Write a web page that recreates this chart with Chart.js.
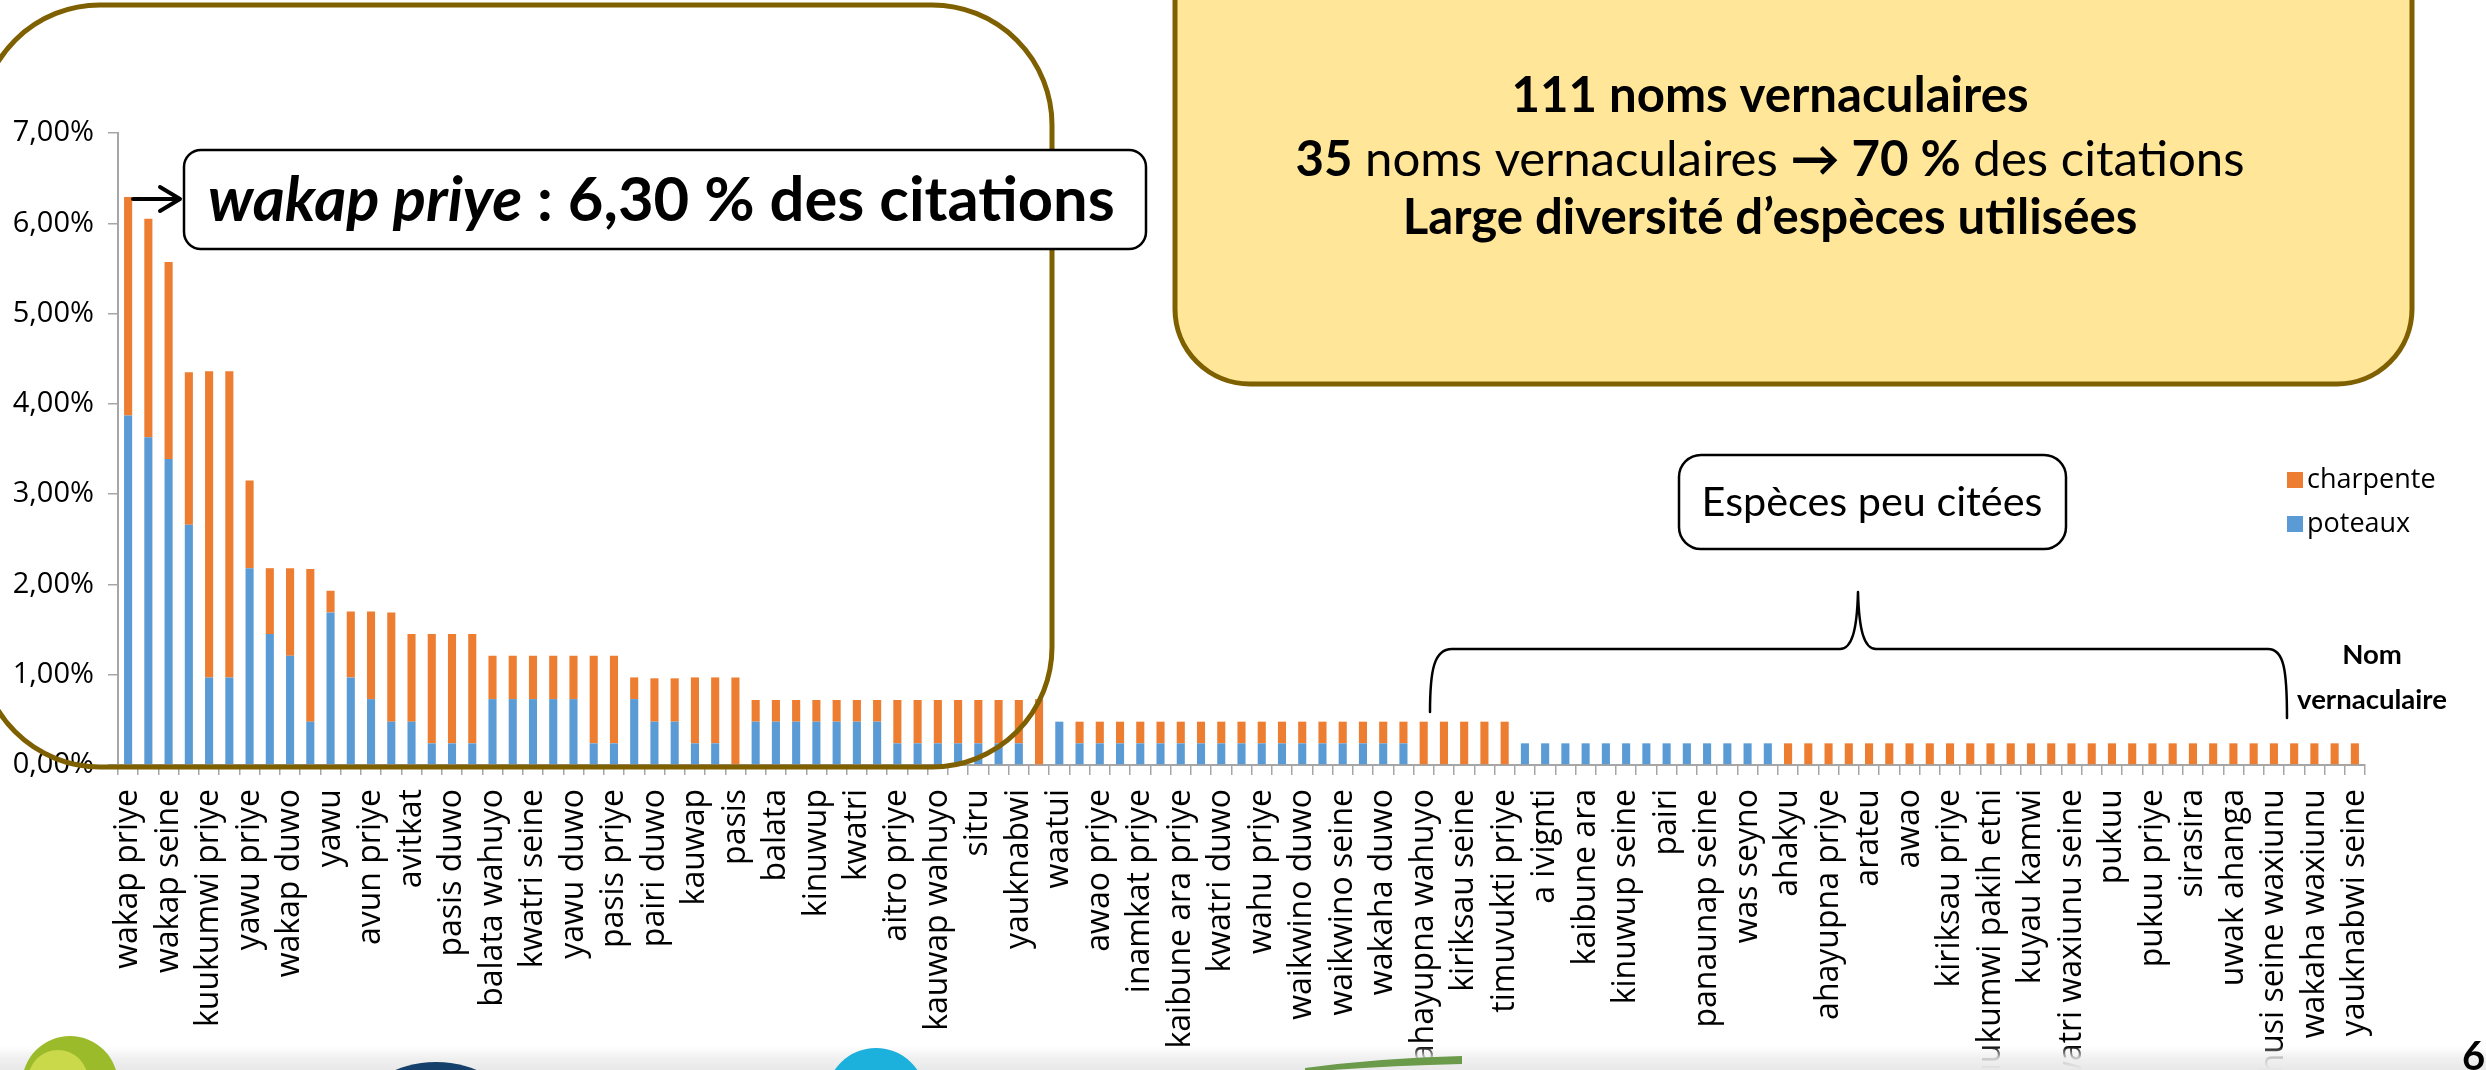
<!DOCTYPE html>
<html lang="fr">
<head>
<meta charset="utf-8">
<title>Noms vernaculaires cités</title>
<script src="https://cdn.jsdelivr.net/npm/chart.js@4.4.1/dist/chart.umd.min.js"></script>
<style>
  html, body { margin: 0; padding: 0; background: #fff; overflow: hidden; }
  #myChart { display: block; }
</style>
</head>
<body>
<canvas id="myChart" width="2486" height="1070"></canvas>
<script>
const ctx = document.getElementById('myChart');

// names shown on the axis (one every two bars)
const nomsAffiches = [
  'wakap priye', 'wakap seine', 'kuukumwi priye', 'yawu priye', 'wakap duwo',
  'yawu', 'avun priye', 'avitkat', 'pasis duwo', 'balata wahuyo',
  'kwatri seine', 'yawu duwo', 'pasis priye', 'pairi duwo', 'kauwap',
  'pasis', 'balata', 'kinuwup', 'kwatri', 'aitro priye',
  'kauwap wahuyo', 'sitru', 'yauknabwi', 'waatui', 'awao priye',
  'inamkat priye', 'kaibune ara priye', 'kwatri duwo', 'wahu priye', 'waikwino duwo',
  'waikwino seine', 'wakaha duwo', 'ahayupna wahuyo', 'kiriksau seine', 'timuvukti priye',
  'a ivignti', 'kaibune ara', 'kinuwup seine', 'pairi', 'panaunap seine',
  'was seyno', 'ahakyu', 'ahayupna priye', 'arateu', 'awao',
  'kiriksau priye', 'kuukumwi pakih etni', 'kuyau kamwi', 'kwatri waxiunu seine', 'pukuu',
  'pukuu priye', 'sirasira', 'uwak ahanga', 'wahusi seine waxiunu', 'wakaha waxiunu',
  'yauknabwi seine'
];

// % des citations, poteaux (blue, bottom)
const poteaux = [
  3.87, 3.63, 3.39, 2.66, 0.97, 0.97, 2.18, 1.45, 1.21, 0.48,
  1.69, 0.97, 0.73, 0.48, 0.48, 0.24, 0.24, 0.24, 0.73, 0.73,
  0.73, 0.73, 0.73, 0.24, 0.24, 0.73, 0.48, 0.48, 0.24, 0.24,
  0, 0.48, 0.48, 0.48, 0.48, 0.48, 0.48, 0.48, 0.24, 0.24,
  0.24, 0.24, 0.24, 0.24, 0.24, 0, 0.48, 0.24, 0.24, 0.24,
  0.24, 0.24, 0.24, 0.24, 0.24, 0.24, 0.24, 0.24, 0.24, 0.24,
  0.24, 0.24, 0.24, 0.24, 0, 0, 0, 0, 0, 0.24,
  0.24, 0.24, 0.24, 0.24, 0.24, 0.24, 0.24, 0.24, 0.24, 0.24,
  0.24, 0.24, 0, 0, 0, 0, 0, 0, 0, 0,
  0, 0, 0, 0, 0, 0, 0, 0, 0, 0,
  0, 0, 0, 0, 0, 0, 0, 0, 0, 0,
  0
];

// % des citations, charpente (orange, top)
const charpente = [
  2.42, 2.42, 2.18, 1.69, 3.39, 3.39, 0.97, 0.73, 0.97, 1.69,
  0.24, 0.73, 0.97, 1.21, 0.97, 1.21, 1.21, 1.21, 0.48, 0.48,
  0.48, 0.48, 0.48, 0.97, 0.97, 0.24, 0.48, 0.48, 0.73, 0.73,
  0.97, 0.24, 0.24, 0.24, 0.24, 0.24, 0.24, 0.24, 0.48, 0.48,
  0.48, 0.48, 0.48, 0.48, 0.48, 0.73, 0, 0.24, 0.24, 0.24,
  0.24, 0.24, 0.24, 0.24, 0.24, 0.24, 0.24, 0.24, 0.24, 0.24,
  0.24, 0.24, 0.24, 0.24, 0.48, 0.48, 0.48, 0.48, 0.48, 0,
  0, 0, 0, 0, 0, 0, 0, 0, 0, 0,
  0, 0, 0.24, 0.24, 0.24, 0.24, 0.24, 0.24, 0.24, 0.24,
  0.24, 0.24, 0.24, 0.24, 0.24, 0.24, 0.24, 0.24, 0.24, 0.24,
  0.24, 0.24, 0.24, 0.24, 0.24, 0.24, 0.24, 0.24, 0.24, 0.24,
  0.24
];

// 111 categories: the unlabelled ones stay blank
const categories = [];
nomsAffiches.forEach((nom, i) => {
  categories.push(nom);
  if (i < nomsAffiches.length - 1) categories.push('');
});

const BLUE = '#5b9bd5';
const ORANGE = '#ed7d31';
const BROWN = '#7f6000';
const TITLE_FONT = 'Lato, "Open Sans", sans-serif';

// size a line of text (made of runs) so it takes a given width
function fitSize(c, runs, target) {
  let w = 0;
  runs.forEach((r) => {
    c.font = `${r.f} 100px ${TITLE_FONT}`;
    w += c.measureText(r.t).width;
  });
  return (100 * target) / w;
}

function drawRuns(c, runs, size, x, y, align) {
  let w = 0;
  runs.forEach((r) => {
    c.font = `${r.f} ${size}px ${TITLE_FONT}`;
    w += c.measureText(r.t).width;
  });
  let cx = align == 'center' ? x - w / 2 : x;
  c.textAlign = 'left';
  c.textBaseline = 'middle';
  runs.forEach((r) => {
    c.font = `${r.f} ${size}px ${TITLE_FONT}`;
    c.fillText(r.t, cx, y);
    cx += c.measureText(r.t).width;
  });
}

// frames, callouts, brace, legend and footer
const decor = {
  id: 'decor',
  afterDraw(chart) {
    const c = chart.ctx;
    c.save();
    c.fillStyle = '#000';

    // brown frame round the first species
    c.lineWidth = 5;
    c.strokeStyle = BROWN;
    c.beginPath();
    c.roundRect(-20, 5, 1072, 762, 120);
    c.stroke();

    // wakap priye callout
    c.fillStyle = '#fff';
    c.strokeStyle = '#000';
    c.lineWidth = 2.5;
    c.beginPath();
    c.roundRect(184, 150, 962, 99, 17);
    c.fill();
    c.stroke();
    c.fillStyle = '#000';
    const wakap = [
      { t: 'wakap priye', f: 'italic 700' },
      { t: ' : 6,30 % des citations', f: '700' },
    ];
    drawRuns(c, wakap, fitSize(c, wakap, 907), 208, 201, 'left');

    // arrow from the first bar to the callout
    c.lineWidth = 4;
    c.lineCap = 'round';
    c.lineJoin = 'round';
    c.beginPath();
    c.moveTo(133, 199);
    c.lineTo(179, 199);
    c.moveTo(160, 187);
    c.lineTo(180, 199);
    c.lineTo(160, 211);
    c.stroke();

    // yellow summary box
    c.fillStyle = '#ffe699';
    c.strokeStyle = BROWN;
    c.lineWidth = 5;
    c.beginPath();
    c.roundRect(1175, -80, 1237, 464, 75);
    c.fill();
    c.stroke();
    c.fillStyle = '#000';
    const l1 = [{ t: '111 noms vernaculaires', f: '700' }];
    const l2 = [
      { t: '35', f: '700' },
      { t: ' noms vernaculaires ', f: '400' },
      { t: '→', f: '700' },
      { t: ' 70 %', f: '700' },
      { t: ' des citations', f: '400' },
    ];
    const l3 = [{ t: 'Large diversité d’espèces utilisées', f: '700' }];
    const s = (fitSize(c, l1, 517) + fitSize(c, l2, 946) + fitSize(c, l3, 738)) / 3;
    drawRuns(c, l1, s, 1770, 96, 'center');
    drawRuns(c, l2, s, 1770, 160, 'center');
    drawRuns(c, l3, s, 1770, 218, 'center');

    // "Espèces peu citées" box
    c.fillStyle = '#fff';
    c.strokeStyle = '#000';
    c.lineWidth = 2.5;
    c.beginPath();
    c.roundRect(1679, 455, 387, 94, 22);
    c.fill();
    c.stroke();
    c.fillStyle = '#000';
    const peu = [{ t: 'Espèces peu citées', f: '400' }];
    drawRuns(c, peu, fitSize(c, peu, 341), 1872, 503, 'center');

    // curly brace over the rare species
    c.lineWidth = 2.5;
    c.beginPath();
    c.moveTo(1430, 712);
    c.bezierCurveTo(1430, 670, 1434, 649, 1452, 649);
    c.lineTo(1840, 649);
    c.bezierCurveTo(1852, 649, 1857, 630, 1858, 592);
    c.bezierCurveTo(1859, 630, 1864, 649, 1876, 649);
    c.lineTo(2268, 649);
    c.bezierCurveTo(2284, 649, 2287, 670, 2287, 718);
    c.stroke();

    // legend (charpente listed first)
    const items = [
      { label: chart.data.datasets[1].label, color: chart.data.datasets[1].backgroundColor, y: 480 },
      { label: chart.data.datasets[0].label, color: chart.data.datasets[0].backgroundColor, y: 524 },
    ];
    items.forEach((it) => {
      c.fillStyle = it.color;
      c.fillRect(2287, it.y - 8, 16, 16);
      c.fillStyle = '#000';
      c.font = '27px "Open Sans"';
      c.textAlign = 'left';
      c.textBaseline = 'middle';
      c.fillText(it.label, 2307, it.y);
    });

    // axis title
    const nomRun = [{ t: 'vernaculaire', f: '700' }];
    const ns = fitSize(c, nomRun, 150);
    drawRuns(c, [{ t: 'Nom', f: '700' }], ns, 2372, 655, 'center');
    drawRuns(c, nomRun, ns, 2372, 700, 'center');

    // footer band with partial logos
    const g = c.createLinearGradient(0, 1046, 0, 1070);
    g.addColorStop(0, 'rgba(238,238,238,0)');
    g.addColorStop(0.5, 'rgba(238,238,238,0.85)');
    g.addColorStop(1, '#e8e8e8');
    c.fillStyle = g;
    c.fillRect(0, 1046, 2486, 24);

    c.fillStyle = '#9bbb2a';
    c.beginPath();
    c.arc(70, 1084, 48, 0, Math.PI * 2);
    c.fill();
    c.fillStyle = '#c9d94a';
    c.beginPath();
    c.arc(58, 1080, 30, 0, Math.PI * 2);
    c.fill();
    c.fillStyle = '#14406b';
    c.beginPath();
    c.ellipse(436, 1114, 76, 52, 0, 0, Math.PI * 2);
    c.fill();
    c.fillStyle = '#1cb0dc';
    c.beginPath();
    c.arc(876, 1098, 50, 0, Math.PI * 2);
    c.fill();
    c.fillStyle = '#6a9a4a';
    c.beginPath();
    c.moveTo(1305, 1068);
    c.quadraticCurveTo(1380, 1058, 1462, 1056);
    c.lineTo(1462, 1064);
    c.quadraticCurveTo(1380, 1066, 1305, 1072);
    c.closePath();
    c.fill();

    c.fillStyle = '#000';
    c.font = `700 40px ${TITLE_FONT}`;
    c.textAlign = 'left';
    c.textBaseline = 'alphabetic';
    c.fillText('6', 2462, 1070);

    c.restore();
  },
};

let myChart = new Chart(ctx, {
  type: 'bar',
  data: {
    labels: categories,
    datasets: [
      {
        label: 'poteaux',
        data: poteaux,
        backgroundColor: BLUE,
        barPercentage: 0.4,
        categoryPercentage: 1,
      },
      {
        label: 'charpente',
        data: charpente,
        backgroundColor: ORANGE,
        barPercentage: 0.4,
        categoryPercentage: 1,
      },
    ],
  },
  options: {
    responsive: false,
    animation: false,
    layout: {
      padding: { top: 133, right: 121, left: 0, bottom: 0 },
    },
    scales: {
      x: {
        stacked: true,
        afterFit: (scale) => {
          scale.height = 305;
        },
        grid: {
          offset: true,
          drawOnChartArea: false,
          tickLength: 10,
          color: '#a6a6a6',
          lineWidth: 1.5,
        },
        border: { color: '#a6a6a6', width: 2 },
        ticks: {
          autoSkip: false,
          maxRotation: 90,
          minRotation: 90,
          padding: 14,
          color: '#000',
          font: { family: 'Open Sans', size: 32 },
        },
      },
      y: {
        stacked: true,
        min: 0,
        max: 7,
        afterFit: (scale) => {
          scale.width = 118;
        },
        grid: {
          drawOnChartArea: false,
          tickLength: 10,
          color: '#a6a6a6',
          lineWidth: 1.5,
        },
        border: { color: '#a6a6a6', width: 2 },
        ticks: {
          stepSize: 1,
          padding: 14,
          color: '#000',
          font: { family: 'Open Sans', size: 29 },
          callback: (v) => v.toFixed(2).replace('.', ',') + '%',
        },
      },
    },
    plugins: {
      legend: { display: false },
      tooltip: { enabled: false },
    },
  },
  plugins: [decor],
});
</script>
</body>
</html>
